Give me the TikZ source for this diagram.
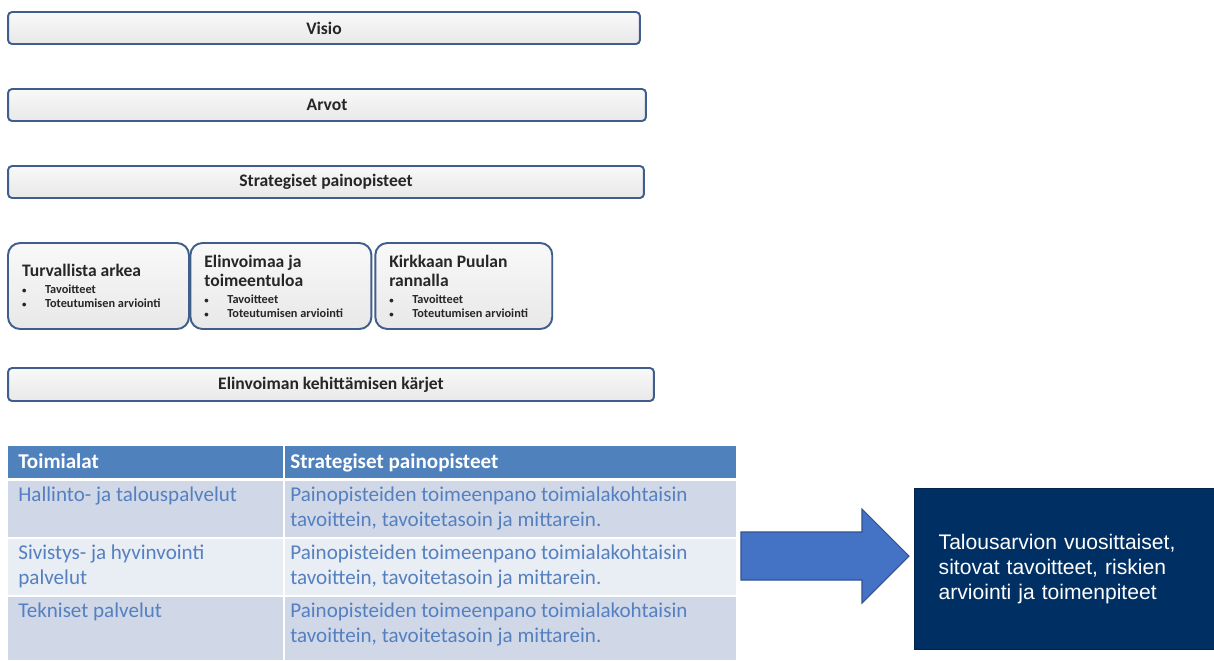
\documentclass[tikz,border=0pt]{standalone}
\usepackage{fontspec}
\setmainfont{Carlito}
\newfontfamily\arialfont{Liberation Sans}
\usetikzlibrary{positioning}

\definecolor{barline}{HTML}{3F5E8C}
\definecolor{headblue}{HTML}{4F81BD}
\definecolor{rowdark}{HTML}{D0D8E8}
\definecolor{rowlight}{HTML}{E9EDF4}
\definecolor{celltext}{HTML}{5580C0}
\definecolor{arrowblue}{HTML}{4472C4}
\definecolor{arrowline}{HTML}{2F528F}
\definecolor{navy}{HTML}{003063}

% title and the two bullet points of a goal box
\newcommand{\goalbullet}{\makebox[0.46cm][l]{\fontsize{5}{5}\selectfont\textbullet}}
\newcommand{\goalbox}[1]{\spaceskip=0pt \xspaceskip=0pt
  {\fontsize{10}{11.3}\selectfont\bfseries #1\par}\vspace{1.5pt}%
  {\fontsize{7}{7.9}\selectfont\bfseries
   \goalbullet Tavoitteet\\
   \goalbullet Toteutumisen arviointi\par}}

\begin{document}
\begin{tikzpicture}[x=0.02cm, y=-0.02cm,
    bar/.style={draw=barline, line width=1.1pt, rounded corners=0.8mm,
                top color=gray!5, bottom color=gray!18, minimum height=0.64cm,
                font=\fontsize{10}{12}\selectfont\bfseries, text=black!85},
    goal/.style={draw=barline, line width=1.1pt, rounded corners=2.4mm,
                 top color=gray!5, bottom color=gray!18,
                 minimum width=3.62cm, minimum height=1.72cm, inner xsep=0.28cm,
                 text width=3.06cm, align=left, text=black!85},
    head/.style={anchor=base west, inner sep=0pt, text=white,
                 font=\fontsize{12}{14}\selectfont\bfseries},
    cell/.style={anchor=base west, inner sep=0pt, text=celltext, align=left,
                 font=\fontsize{12}{14.2}\selectfont}]
  \useasboundingbox (0,0) rectangle (1214,660);

  \node[bar, minimum width=12.64cm] (visio) at (324,28) {Visio};
  \node[bar, minimum width=12.76cm] (arvot) at (327,105) {Arvot};
  \node[bar, minimum width=12.72cm] (strat) at (326,182) {Strategiset painopisteet};

  \node[goal] (turv) at (98.5,286) {\goalbox{Turvallista arkea}};
  \node[goal, right=-0.01cm of turv] (elin) {\goalbox{Elinvoimaa ja\\toimeentuloa}};
  \node[goal, right=0.04cm of elin, minimum width=3.54cm, text width=2.98cm] (kirk)
       {\goalbox{Kirkkaan Puulan\\rannalla}};

  \node[bar, minimum width=12.92cm, minimum height=0.66cm] (karjet) at (331,384.5)
       {Elinvoiman kehittämisen kärjet};

  % table
  \fill[headblue] (8,446) rectangle (736,478);
  \fill[rowdark] (8,481) rectangle (736,537);
  \fill[rowlight] (8,539) rectangle (736,595);
  \fill[rowdark] (8,597) rectangle (736,660);
  \draw[white, line width=1.6pt] (284,446) -- (284,660);

  \node[head] (toimialat) at (18,468) {Toimialat};
  \node[head] (painop) at (290,468) {Strategiset painopisteet};
  % base of a two-line cell is its last line
  \foreach \y/\yb/\name/\txt in {501/501/hal/{Hallinto- ja talouspalvelut},
                                 559/584/siv/{Sivistys- ja hyvinvointi\\palvelut},
                                 617/617/tek/{Tekniset palvelut}} {
    \node[cell] (\name) at (18,\yb) {\txt};
    \node[cell] (\name-p) at (290,\y+25)
         {Painopisteiden toimeenpano toimialakohtaisin\\tavoittein, tavoitetasoin ja mittarein.};
  }

  % block arrow
  \draw[arrowline, fill=arrowblue, line width=0.6pt]
    (741,532) -- (862,532) -- (862,509) -- (909,556) -- (862,603) -- (862,580) -- (741,580) -- cycle;

  \node[anchor=north west, fill=navy, draw=navy!80!black, line width=0.8pt,
        minimum width=6cm, minimum height=3.22cm, inner xsep=0.48cm,
        text width=5.04cm, align=left, text=white,
        font=\arialfont\fontsize{12}{14.2}\selectfont] (budjetti) at (914,488)
       {Talousarvion vuosittaiset,\\sitovat tavoitteet, riskien\\arviointi ja toimenpiteet};
\end{tikzpicture}
\end{document}
